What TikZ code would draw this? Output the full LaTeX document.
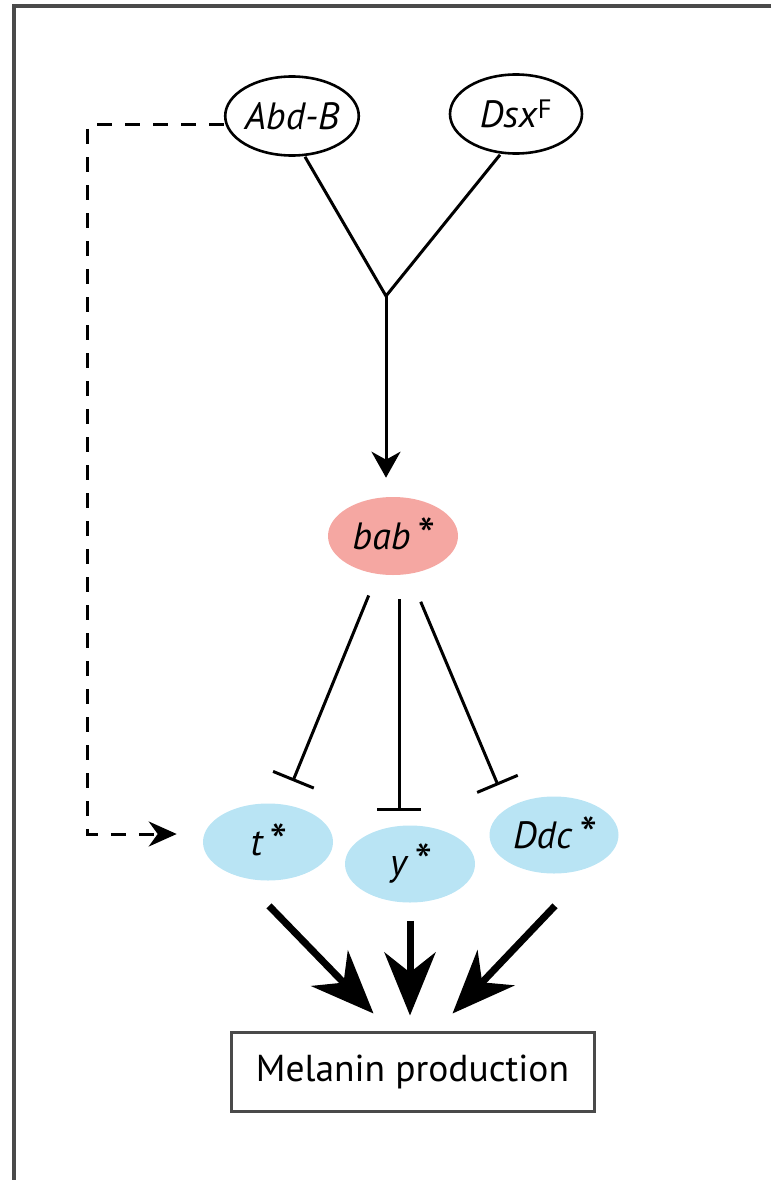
\documentclass[tikz,border=0pt]{standalone}
\usepackage{fontspec}
\setmainfont{PT Sans}
\usetikzlibrary{shapes.geometric,arrows.meta,positioning,calc}
\definecolor{babFill}{HTML}{F5A7A2}
\definecolor{tgtFill}{HTML}{B9E4F4}
\definecolor{frameEdge}{HTML}{4A4A4A}
\newcommand{\gstar}{\,\raisebox{-4pt}{\fontsize{50}{50}\selectfont *}}
\tikzset{
  gene/.style={ellipse,draw=black,line width=2.6pt,inner sep=0pt,minimum width=131pt,minimum height=79pt,
               font=\fontsize{38}{44}\selectfont\itshape},
  repr/.style={gene,draw=none,fill=babFill,minimum width=130pt,minimum height=78pt},
  tgt/.style={gene,draw=none,fill=tgtFill,minimum width=130pt,minimum height=77pt},
  outbox/.style={draw=frameEdge,line width=3pt,minimum width=363pt,minimum height=79pt,inner sep=0pt,
                 font=\fontsize{37.5}{44}\selectfont},
  thinline/.style={line width=3pt},
  actflow/.style={thinline,-{Stealth[length=26pt,width=29pt,inset=8pt]}},
  inhib/.style={thinline,-{Bar[width=44pt]}},
  dashflow/.style={line width=3pt,dash pattern=on 15pt off 13pt,-{Stealth[length=28pt,width=25pt,inset=9pt]}},
  bigflow/.style={line width=7pt,-{Stealth[length=63pt,width=51pt,inset=20pt]}},
}
\begin{document}
\begin{tikzpicture}[x=1pt,y=-1pt]
  \useasboundingbox (0,0) rectangle (771,1180);
  \draw[frameEdge,line width=3.5pt] (771,6) -- (14,6) -- (14,1180);

  \node[gene] (abd) at (292,116) {Abd-B};
  \node[gene,minimum width=132pt] (dsx) at (516,114) {Dsx\textsuperscript{\upshape\kern1pt F}};
  \coordinate (junc) at (386,296);
  \node[repr] (bab) at (393,536) {bab\gstar};
  \node[tgt] (t) at (268,842) {t\gstar};
  \node[tgt] (y) at (410,864) {y\gstar};
  \node[tgt,minimum width=129pt] (ddc) at (554,835) {Ddc\gstar};
  \node[outbox] (mel) at (412.5,1071.5) {Melanin production};

  \draw[thinline] ([xshift=13pt]abd.south) -- (junc) -- ([xshift=-16pt]dsx.south);
  \draw[actflow,shorten >=18pt] (junc) -- (junc |- bab.north);
  \draw[dashflow] ([yshift=-9pt]abd.west) -- ++(-136,0) |- ([xshift=-25pt,yshift=8pt]t.west);

  \draw[inhib,shorten <=22pt,shorten >=24pt] (bab) -- (t);
  \draw[inhib,shorten <=23pt,shorten >=13pt] ([xshift=6pt]bab.south) -- ([xshift=6pt]bab.south |- y.north);
  \draw[inhib,shorten <=29pt,shorten >=54pt] (bab) -- ([xshift=-35pt]ddc.center);

  \draw[bigflow] ([xshift=1pt,yshift=-24pt]t.south) -- ([xshift=-39pt,yshift=17pt]mel.north);
  \draw[bigflow] ([yshift=-17pt]y.south) -- ([yshift=15pt]y.south |- mel.north);
  \draw[bigflow] ([xshift=1pt,yshift=-31pt]ddc.south) -- ([xshift=40pt,yshift=17pt]mel.north);
\end{tikzpicture}
\end{document}
